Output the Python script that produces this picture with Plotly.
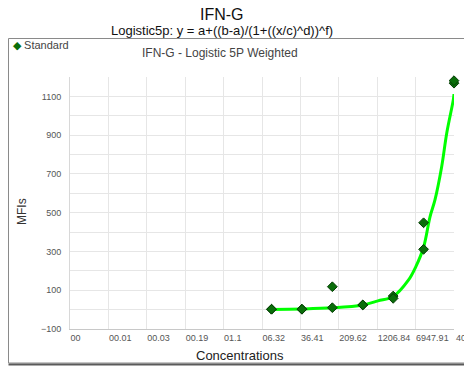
import plotly.graph_objects as go

# Standard concentrations (4-fold dilution series) and measured MFIs
std_conc = [9.765625, 9.765625, 39.0625, 39.0625, 156.25, 156.25, 625, 625,
            2500, 2500, 10000, 10000, 40000, 40000]
std_mfi = [2, 2, 2, 2, 10, 118, 24, 24, 70, 58, 311, 448, 1168, 1181]

# Fitted logistic 5P curve, sampled along the standard range
fit_conc = [9.77, 39.06, 156.25, 625, 1250, 2500, 5000, 7000, 10000,
            13400, 16800, 22800, 28700, 38700, 40000]
fit_mfi = [1, 3, 9, 24, 45, 68, 152, 221, 322, 479, 566, 737, 910, 1082, 1112]

# Axis tick values and labels
x_tickvals = [0.001, 0.005757, 0.03314, 0.1908, 1.0985, 6.324, 36.41,
              209.62, 1206.84, 6947.91, 40000]
x_ticktext = ["00", "00.01", "00.03", "00.19", "01.1", "06.32", "36.41",
              "209.62", "1206.84", "6947.91", "40000"]
y_tickvals = [-100, 100, 300, 500, 700, 900, 1100]

W, H = 464, 367
L, R, T, B = 70, 10, 77, 38
pw, ph = W - L - R, H - T - B


def px(x):
    return (x - L) / pw


def py(y):
    return (H - B - y) / ph


marker_green = "#0a6e0a"
tick_font = dict(family="Liberation Sans, Arial", size=9, color="#555555")

fig = go.Figure()

fig.add_trace(go.Scatter(
    x=fit_conc, y=fit_mfi, mode="lines", line=dict(color="#00ff00", width=3, shape="spline"),
    showlegend=False, hoverinfo="skip",
))
fig.add_trace(go.Scatter(
    x=std_conc, y=std_mfi, mode="markers", name="Standard", showlegend=False,
    marker=dict(symbol="diamond", size=7.5, color=marker_green, line=dict(color="#033d03", width=1)),
    cliponaxis=False,
))

grid = "#e6e6e6"
fig.update_xaxes(
    type="log", range=[-3, 4.60206], tickvals=x_tickvals[:-1], ticktext=x_ticktext[:-1],
    ticklabelposition="outside right", tickangle=0, showgrid=True, gridcolor=grid, gridwidth=1,
    showline=True, linecolor="#c8c8c8", linewidth=1, zeroline=False, ticks="",
    tickfont=tick_font,
)
fig.update_yaxes(
    range=[-100, 1200], tickvals=y_tickvals, showgrid=True, gridcolor=grid,
    minor=dict(dtick=100, tick0=0, showgrid=True, gridcolor=grid, ticks=""),
    showline=True, linecolor="#d8d8d8", linewidth=1, zeroline=False, ticks="",
    ticklabelstandoff=6, tickfont=tick_font,
)

annotations = [
    dict(text="IFN-G", x=px(222), y=py(14), font=dict(size=16, color="#111111")),
    dict(text="Logistic5p: y = a+((b-a)/(1+((x/c)^d))^f)", x=px(222), y=py(31),
         font=dict(size=13, color="#111111")),
    dict(text="IFN-G - Logistic 5P Weighted", x=px(220), y=py(53),
         font=dict(size=12, color="#444444")),
    dict(text="MFIs", x=px(22), y=py(212), textangle=-90,
         font=dict(size=12, color="#333333")),
    dict(text="Concentrations", x=px(240), y=py(355),
         font=dict(size=13, color="#222222")),
    # legend entry for the standards
    dict(text=f'<span style="color:{marker_green}">◆</span> Standard', x=px(11), y=py(45),
         xanchor="left", font=dict(size=11, color="#444444")),
    # last x tick label, at the right edge of the axis
    dict(text=x_ticktext[-1], x=1, y=py(338), xref="paper", xanchor="left",
         font=dict(tick_font)),
]
for a in annotations:
    a.setdefault("xanchor", "center")
    a.update(xref="paper", yref="paper", showarrow=False, yanchor="middle")
    a["font"]["family"] = "Liberation Sans, Arial"

shapes = [
    dict(type="rect", xref="paper", yref="paper", x0=px(8.5), x1=px(480), y0=py(363),
         y1=py(38.5), line=dict(color="#8a8a8a", width=1), layer="below"),
    dict(type="line", xref="paper", yref="paper", x0=px(8.5), x1=px(480), y0=py(364.5),
         y1=py(364.5), line=dict(color="#5a5a5a", width=2), layer="below"),
]

fig.update_layout(
    width=W, height=H, margin=dict(l=L, r=R, t=T, b=B, autoexpand=False),
    paper_bgcolor="white", plot_bgcolor="white",
    font=dict(family="Liberation Sans, Arial", size=11, color="#333333"),
    showlegend=False,
    annotations=annotations, shapes=shapes,
)

fig.write_html("out.html")
